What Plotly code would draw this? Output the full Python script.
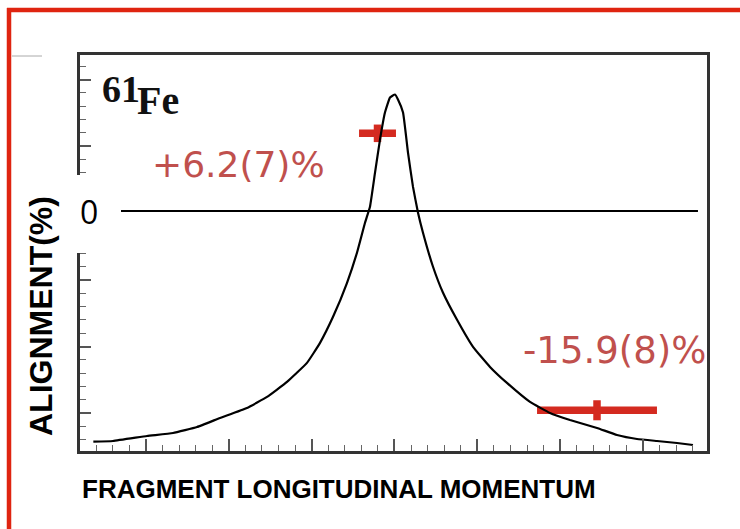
import plotly.graph_objects as go

W, H = 740, 529
L, R, T, B = 80, 33, 55, 78
PW, PH = W - L - R, H - T - B

# Fragment momentum distribution (momentum in axis tick units, yield in arbitrary units)
momentum = [-3.636, -3.399, -2.988, -2.674, -2.384, -2.107, -1.781, -1.539, -1.298,
            -1.057, -0.899, -0.742, -0.573, -0.453, -0.356, -0.296, -0.235, -0.175,
            -0.115, -0.054, 0.006, 0.042, 0.103, 0.163, 0.223, 0.284, 0.344, 0.465,
            0.586, 0.755, 0.948, 1.153, 1.358, 1.636, 1.877, 2.119, 2.445, 2.686,
            2.928, 3.169, 3.411, 3.604]
yield_counts = [0.574, 0.585, 0.660, 0.705, 0.795, 0.930, 1.080, 1.245, 1.470,
                1.755, 2.055, 2.445, 2.955, 3.405, 3.855, 4.095, 4.605, 5.100,
                5.505, 5.730, 5.775, 5.700, 5.505, 4.905, 4.395, 4.005, 3.705, 3.195,
                2.805, 2.400, 1.995, 1.695, 1.455, 1.170, 1.005, 0.900, 0.780, 0.675,
                0.615, 0.585, 0.555, 0.525]

# Spin alignment measured in two momentum windows
align_p = [-0.205, 2.445]
align_p_halfwidth = [0.223, 0.724]
align_val = [6.2, -15.9]
align_err = [0.7, 0.8]
align_labels = ["+6.2(7)%", "-15.9(8)%"]

# Zero-alignment reference line
zero_x = [-3.302, 3.664]
zero_y = [0, 0]

RED_MARK = "#D42A20"
RED_TEXT = "#C0504D"
RED_FRAME = "#DF2410"


def px(x):
    return (x - L) / PW


def py(y):
    return (H - B - y) / PH


fig = go.Figure()

fig.add_trace(go.Scatter(
    x=momentum, y=yield_counts, yaxis="y2", mode="lines",
    line=dict(color="black", width=2.2, shape="spline", smoothing=0.35),
    showlegend=False, hoverinfo="skip"))

fig.add_trace(go.Scatter(
    x=zero_x, y=zero_y, yaxis="y", mode="lines",
    line=dict(color="black", width=2),
    showlegend=False, hoverinfo="skip"))

fig.add_trace(go.Scatter(
    x=align_p, y=align_val, yaxis="y", mode="markers",
    marker=dict(color=RED_MARK, size=2),
    error_x=dict(type="data", array=align_p_halfwidth, color=RED_MARK,
                 thickness=7.5, width=0),
    error_y=dict(type="data", array=align_err, color=RED_MARK,
                 thickness=7.5, width=0),
    showlegend=False))

axis_frame = dict(showline=True, linecolor="#333333", linewidth=2.5, mirror=True,
                  showgrid=False, zeroline=False, showticklabels=False,
                  ticks="inside", tickcolor="#555555", tickwidth=1.5)

fig.update_layout(
    width=W, height=H,
    margin=dict(l=L, r=R, t=T, b=B, pad=0),
    paper_bgcolor="white", plot_bgcolor="white",
    xaxis=dict(range=[-3.797, 3.773], tick0=0, dtick=1, ticklen=12,
               minor=dict(dtick=0.2, ticks="inside", ticklen=6, tickwidth=1.2,
                          tickcolor="#666666"),
               **axis_frame),
    yaxis=dict(range=[-19.15, 12.45], visible=False),
    yaxis2=dict(range=[0.435, 6.367], overlaying="y", side="left", tick0=0, dtick=1,
                ticklen=11,
                minor=dict(dtick=0.2, ticks="inside", ticklen=6, tickwidth=1.2,
                           tickcolor="#666666"),
                **axis_frame),
)

shapes = [
    # blank strip behind the zero label
    dict(type="rect", xref="paper", yref="paper", x0=px(58), x1=px(119),
         y0=py(253), y1=py(175), fillcolor="white", line=dict(width=0), layer="above"),
    # slide frame
    dict(type="line", xref="paper", yref="paper", x0=px(7), x1=px(745),
         y0=py(10), y1=py(10), line=dict(color=RED_FRAME, width=4.5), layer="above"),
    dict(type="line", xref="paper", yref="paper", x0=px(9), x1=px(9),
         y0=py(8), y1=py(535), line=dict(color=RED_FRAME, width=4.5), layer="above"),
    dict(type="line", xref="paper", yref="paper", x0=px(12), x1=px(42),
         y0=py(56), y1=py(56), line=dict(color="#aaaaaa", width=1), layer="above"),
]
fig.update_layout(shapes=shapes)

annotations = [
    dict(text="0", x=px(89), y=py(211), font=dict(family="Open Sans", size=32, color="black")),
    dict(text="<b>61</b>", x=px(100), y=py(89), xanchor="left",
         font=dict(family="Liberation Serif", size=38, color="#111111")),
    dict(text="<b>Fe</b>", x=px(135), y=py(101), xanchor="left",
         font=dict(family="Liberation Serif", size=40, color="#111111")),
    dict(text=align_labels[0], x=px(238), y=py(164),
         font=dict(family="DejaVu Sans", size=36, color=RED_TEXT)),
    dict(text=align_labels[1], x=px(614), y=py(350),
         font=dict(family="DejaVu Sans", size=37, color=RED_TEXT)),
    dict(text="<b>ALIGNMENT(%)</b>", x=px(41), y=py(316), textangle=-90,
         font=dict(family="Liberation Sans", size=32, color="black")),
    dict(text="<b>FRAGMENT LONGITUDINAL MOMENTUM</b>", x=px(339), y=py(489),
         font=dict(family="Liberation Sans", size=26, color="black")),
]
for a in annotations:
    a.setdefault("xref", "paper")
    a.setdefault("yref", "paper")
    a.setdefault("xanchor", "center")
    a.setdefault("yanchor", "middle")
    a["showarrow"] = False
fig.update_layout(annotations=annotations)

fig.write_html("out.html")
